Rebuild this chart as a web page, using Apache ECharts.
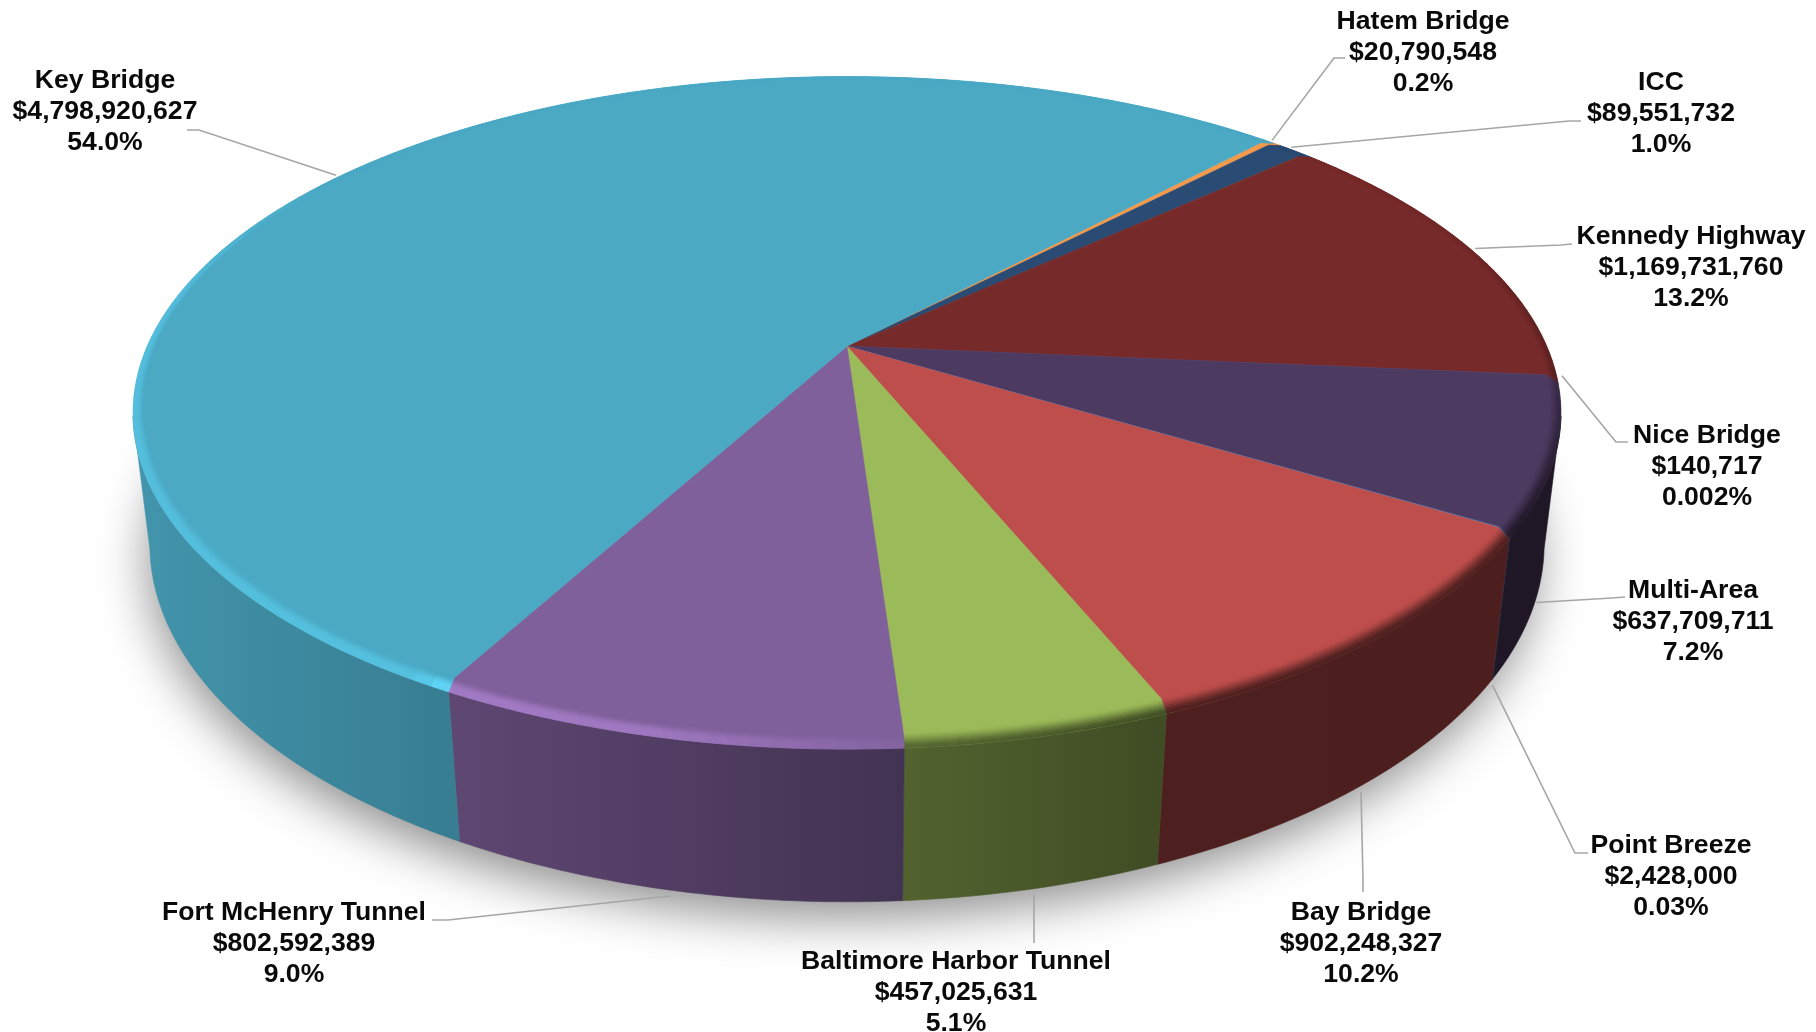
<!DOCTYPE html>
<html><head><meta charset="utf-8">
<style>html,body{margin:0;padding:0;background:#fff}#c{width:1816px;height:1032px}</style>
<script src="https://cdn.jsdelivr.net/npm/echarts@6/dist/echarts.min.js"></script>
</head><body><div id="c"></div>
<script>
// ---- data (clockwise from the top-right) ----
const categories = ['Hatem Bridge','ICC','Kennedy Highway','Nice Bridge','Multi-Area','Point Breeze','Bay Bridge','Baltimore Harbor Tunnel','Fort McHenry Tunnel','Key Bridge'];
const values = [20790548,89551732,1169731760,140717,637709711,2428000,902248327,457025631,802592389,4798920627];
const percentLabels = ['0.2%','1.0%','13.2%','0.002%','7.2%','0.03%','10.2%','5.1%','9.0%','54.0%'];
const sliceColors = ['#F59A4A','#2A4B73','#772A2A','#5F497A','#4D3A60','#4F81BD','#BD4E4C','#9BBA59','#7F609A','#4BA9C4'];

// ---- layout, not data ----
const labelCenters = [[1423,22],[1661,83],[1691,237],[1707,436],[1693,591],[1671,846],[1361,913],[956,962],[294,913],[105,81]];
const leaderKnees = [[[1345,58],[1334,58]],[[1581,121],[1569,121]],[[1572,244],[1561,245]],[[1628,442],[1616,442]],[[1625,597],[1612,598]],[[1588,853],[1575,853]],[[1363,892],[1363,880]],[[1034,943],[1034,926]],[[432,920],[448,920]],[[187,130],[199,130]]];
const START_DEG = -46.8, CX = 847;
const TOP = {A:699.5,B:323,Y:346.3,K:0.198}, MID = {A:703,B:326,Y:354,K:0.175}, BOT = {A:687,B:347.6,Y:483,K:0.17};
const VIS = 10.6;
const wallShade = [[0,.92],[133,.88],[455,.74],[903,.53],[1158,.41],[1540,.40],[1816,.40]];
const rimShade = [[-140,0],[-60,0],[-25,-.05],[5,-.25],[30,-.6],[67,-.6],[80,-.5],[86.3,-.45],[86.6,.04],[104,.26],[119,.28],[122,.14],[190,.12],[215,0],[250,0]];

const total = values.reduce((a,b)=>a+b,0);
const spans = []; let acc = START_DEG;
values.forEach(v=>{const d=v/total*360; spans.push([acc,acc+d]); acc+=d;});

function proj(f,deg,r){const t=deg*Math.PI/180,u=r*Math.cos(t),v=r*Math.sin(t),w=1-f.K*v;return [CX+f.A*u/w,f.Y+f.B*v/w];}
function rgb(h){return [1,3,5].map(i=>parseInt(h.substr(i,2),16));}
function tint(h,m){return 'rgb('+rgb(h).map(c=>Math.min(255,Math.round(c*m))).join(',')+')';}
function arc(f,a,b,r){const n=Math.max(1,Math.ceil(Math.abs(b-a)/0.75)),p=[];for(let i=0;i<=n;i++)p.push(proj(f,a+(b-a)*i/n,r));return p;}
function shadeAt(deg){let d=deg;while(d<-140)d+=360;while(d>220+30)d-=360;
  for(let i=1;i<rimShade.length;i++){if(d<=rimShade[i][0]){const [a,x]=rimShade[i-1],[b,y]=rimShade[i];return x+(y-x)*(d-a)/(b-a);}}return 0;}
function rimWidth(deg,f){const s=Math.max(0,Math.sin(deg*Math.PI/180));return f<0?0.012+0.02*s:0.012+0.018*s;}
function smooth(t){t=Math.max(0,Math.min(1,t));return t*t*(3-2*t);}
// point on the rounded rim: s=0 is the flat face's edge, s=1 the top of the wall
function rimPoint(deg,w,s){const a=proj(TOP,deg,1-w),b=proj(MID,deg,1);return [a[0]+(b[0]-a[0])*s,a[1]+(b[1]-a[1])*s];}

function wallItem(i){
  const a=Math.max(spans[i][0],VIS),b=Math.min(spans[i][1],180-VIS);
  if(b<=a) return null;
  const pts=arc(MID,a,b,1).concat(arc(BOT,a,b,1).reverse());
  const stops=wallShade.map(s=>({offset:s[0]/1816,color:tint(sliceColors[i],s[1])}));
  const fill={type:'linear',x:0,y:0,x2:1816,y2:0,global:true,colorStops:stops};
  return {type:'polygon',shape:{points:pts},style:{fill:fill,stroke:fill,lineWidth:.6}};
}
function topItem(i){
  const pts=[proj(TOP,0,0)].concat(arc(TOP,spans[i][0],spans[i][1],1));
  return {type:'polygon',shape:{points:pts},style:{fill:sliceColors[i],stroke:sliceColors[i],lineWidth:.5}};
}
function rimItems(i){
  const out=[],c=sliceColors[i],BANDS=8,STEP=1.5,[a0,b0]=spans[i];
  for(let d=a0;d<b0;d+=STEP){
    const e=Math.min(b0,d+STEP),mid=(d+e)/2,f=shadeAt(mid),w=rimWidth(mid,f);
    for(let b=0;b<BANDS;b++){
      const t=(b+.5)/BANDS, s1=b/BANDS, s2=(b+1)/BANDS;
      const g=f>0?smooth(t/.7):smooth(t);
      const col=tint(c,1+f*g);
      out.push({type:'polygon',shape:{points:[rimPoint(d,w,s1),rimPoint(e,w,s1),rimPoint(e,w,s2),rimPoint(d,w,s2)]},style:{fill:col,stroke:col,lineWidth:.5}});
    }
  }
  return out;
}
function leaderEnd(i){
  const m=(spans[i][0]+spans[i][1])/2, front=m>VIS&&m<180-VIS;
  if(!front) return proj(TOP,m,1.008);
  const p=proj(BOT,m,1); return [p[0],p[1]+6];
}
function labelItems(i){
  const [x,y]=labelCenters[i],v=values[i];
  const text=categories[i]+'\n$'+v.toLocaleString('en-US')+'\n'+percentLabels[i];
  return [
    {type:'polyline',shape:{points:[leaderKnees[i][0],leaderKnees[i][1],leaderEnd(i)]},style:{fill:null,stroke:'#A6A6A6',lineWidth:1.6}},
    {type:'text',style:{text:text,x:x,y:y-15.3,align:'center',verticalAlign:'top',font:'bold 26.6px "Liberation Sans"',lineHeight:30.6,fill:'#0a0a0a'}}
  ];
}
function layer(fn){
  return {type:'custom',coordinateSystem:'none',silent:true,animation:false,clip:false,
    data:values.map((v,i)=>({name:categories[i],value:v})),
    renderItem:(p)=>{const r=fn(p.dataIndex);return {type:'group',children:[].concat(r||[])};}};
}
const shadowLayer=layer(i=>i===0?{type:'polygon',shape:{points:arc(BOT,0,360,.995)},
  style:{fill:'#bbb',shadowColor:'rgba(0,0,0,.45)',shadowBlur:50,shadowOffsetX:-4,shadowOffsetY:18}}:null);

const chart=echarts.init(document.getElementById('c'),null,{width:1816,height:1032,renderer:'canvas'});
chart.setOption({backgroundColor:'#fff',animation:false,tooltip:{show:false},
  series:[shadowLayer,layer(wallItem),layer(topItem),layer(rimItems),layer(labelItems)]});
</script></body></html>
